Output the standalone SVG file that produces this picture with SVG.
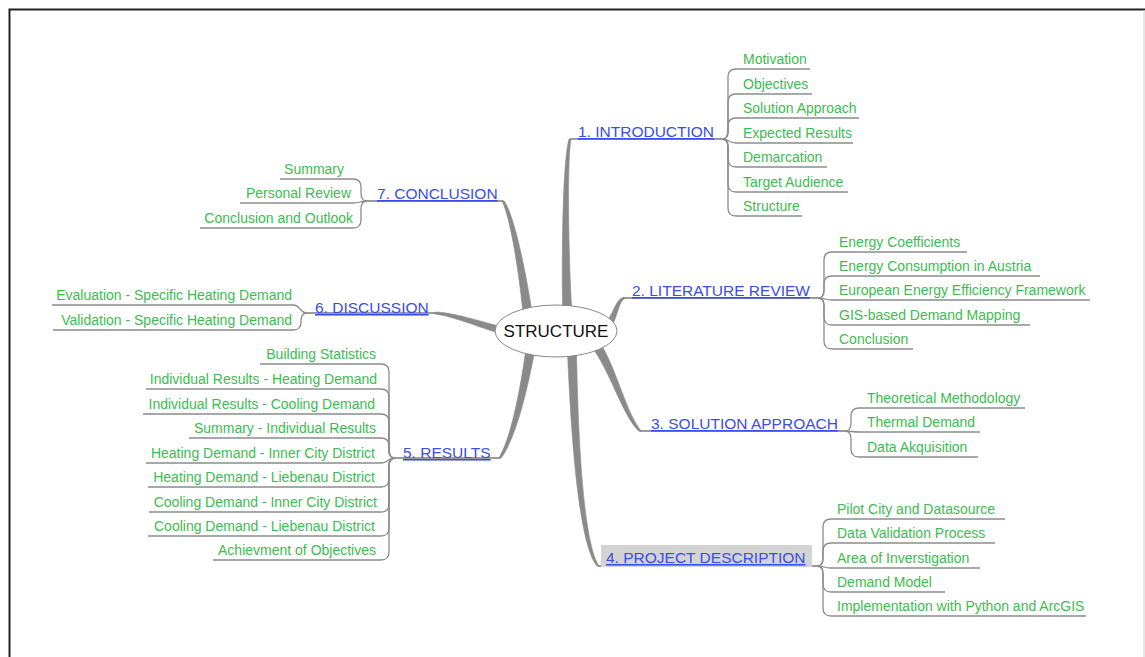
<svg xmlns="http://www.w3.org/2000/svg" width="1145" height="657" viewBox="0 0 1145 657">
<style>
.main{font-family:"Liberation Sans",Arial,sans-serif;font-size:15.5px;fill:#3a4de8;text-decoration:underline}
.sub{font-family:"Liberation Sans",Arial,sans-serif;font-size:14px;fill:#3cbc50}
.e{text-anchor:end}
.l{fill:none;stroke:#8c8c8c;stroke-width:1.3}
.ml{fill:none;stroke:#7a7a7a;stroke-width:1.6}
.t{fill:#8a8a8a;stroke:#8a8a8a;stroke-width:0.6}
</style>
<rect x="0" y="0" width="1145" height="657" fill="#fff"/>
<path d="M9.5,657 V9.5 H1145" fill="none" stroke="#222" stroke-width="2"/>
<line x1="1144" y1="10" x2="1144" y2="657" stroke="#ccc" stroke-width="1"/>

<g id="connectors">
<path class="t" d="M562.5,306 C561.7,250 562.8,160 569,139 L571,139 C567.2,160 568.3,250 571.5,306 Z"/>
<path class="t" d="M522.6,310 C518.8,270.7 509.9,215.5 502,201.2 L504,200.8 C514.1,214.5 525.2,269.3 531.4,308 Z"/>
<path class="t" d="M500.9,326.6 C470.7,318.5 450.5,312.3 435.3,312 L434.7,314 C449.5,315.7 469.3,323.5 499.1,333.4 Z"/>
<path class="t" d="M525.7,350.8 C518.8,399.1 509.9,439.4 499,457.7 L501,458.3 C514.1,440.6 525.2,400.9 534.3,353.2 Z"/>
<path class="t" d="M567.5,352.5 C571.7,450.4 579.8,545.3 597,566.1 L599,565.9 C584.2,544.7 578.3,449.6 576.5,351.5 Z"/>
<path class="t" d="M594,350 C612.1,376.5 623,416 639.1,431.5 L640.9,430.5 C627,414 617.9,373.5 602,346 Z"/>
<path class="t" d="M605,323.2 C612.8,316.7 615.5,299.1 623.1,297.5 L624.9,298.5 C618.5,300.9 617.2,319.3 611,326.8 Z"/>
<line class="ml" x1="570" y1="139" x2="722" y2="139"/>
<line class="ml" x1="623" y1="298" x2="818" y2="298"/>
<line class="ml" x1="640" y1="431" x2="845" y2="431"/>
<line class="ml" x1="598" y1="566" x2="817" y2="566"/>
<line class="ml" x1="395" y1="458" x2="500" y2="458"/>
<line class="ml" x1="307" y1="313" x2="435" y2="313"/>
<line class="ml" x1="367" y1="201" x2="503" y2="201"/>
<path class="l" d="M722,139 Q728,139 728,131 L728,77 Q728,69 736,69 L810,69"/>
<path class="l" d="M722,139 Q728,139 728,131 L728,102 Q728,94 736,94 L812,94"/>
<path class="l" d="M722,139 Q728,139 728,131 L728,126 Q728,118 736,118 L859,118"/>
<path class="l" d="M722,139 C730,139 728,143 736,143 L853,143"/>
<path class="l" d="M722,139 Q728,139 728,147 L728,159 Q728,167 736,167 L827,167"/>
<path class="l" d="M722,139 Q728,139 728,147 L728,184 Q728,192 736,192 L848,192"/>
<path class="l" d="M722,139 Q728,139 728,147 L728,208 Q728,216 736,216 L802,216"/>
<path class="l" d="M818,298 Q824,298 824,290 L824,260 Q824,252 832,252 L967,252"/>
<path class="l" d="M818,298 Q824,298 824,290 L824,284 Q824,276 832,276 L1040,276"/>
<path class="l" d="M818,298 C826,298 824,300 832,300 L1090,300"/>
<path class="l" d="M818,298 Q824,298 824,306 L824,317 Q824,325 832,325 L1030,325"/>
<path class="l" d="M818,298 Q824,298 824,306 L824,341 Q824,349 832,349 L913,349"/>
<path class="l" d="M845,431 Q851,431 851,423 L851,416 Q851,408 859,408 L1025,408"/>
<path class="l" d="M845,431 C853,431 851,432 859,432 L980,432"/>
<path class="l" d="M845,431 Q851,431 851,439 L851,449 Q851,457 859,457 L978,457"/>
<path class="l" d="M817,566 Q823,566 823,558 L823,527 Q823,519 831,519 L1005,519"/>
<path class="l" d="M817,566 Q823,566 823,558 L823,551 Q823,543 831,543 L995,543"/>
<path class="l" d="M817,566 C825,566 823,568 831,568 L980,568"/>
<path class="l" d="M817,566 Q823,566 823,574 L823,584 Q823,592 831,592 L945,592"/>
<path class="l" d="M817,566 Q823,566 823,574 L823,608 Q823,616 831,616 L1086,616"/>
<path class="l" d="M395,458 Q389,458 389,450 L389,372 Q389,364 381,364 L260,364"/>
<path class="l" d="M395,458 Q389,458 389,450 L389,397 Q389,389 381,389 L146,389"/>
<path class="l" d="M395,458 Q389,458 389,450 L389,422 Q389,414 381,414 L143,414"/>
<path class="l" d="M395,458 Q389,458 389,450 L389,446 Q389,438 381,438 L189,438"/>
<path class="l" d="M395,458 C387,458 389,463 381,463 L146,463"/>
<path class="l" d="M395,458 Q389,458 389,466 L389,479 Q389,487 381,487 L148,487"/>
<path class="l" d="M395,458 Q389,458 389,466 L389,504 Q389,512 381,512 L149,512"/>
<path class="l" d="M395,458 Q389,458 389,466 L389,528 Q389,536 381,536 L148,536"/>
<path class="l" d="M395,458 Q389,458 389,466 L389,552 Q389,560 381,560 L213,560"/>
<path class="l" d="M307,313 C299,313 301,305 293,305 L52,305"/>
<path class="l" d="M307,313 Q301,313 301,321 L301,322 Q301,330 293,330 L53,330"/>
<path class="l" d="M367,201 Q361,201 361,193 L361,187 Q361,179 353,179 L280,179"/>
<path class="l" d="M367,201 C359,201 361,203 353,203 L240,203"/>
<path class="l" d="M367,201 Q361,201 361,209 L361,220 Q361,228 353,228 L200,228"/>
</g>

<g id="center">
<ellipse cx="556" cy="331" rx="61" ry="26" fill="#fff" stroke="#888" stroke-width="1"/>
<text x="556" y="337" text-anchor="middle" font-family="'Liberation Sans',Arial,sans-serif" font-size="17" fill="#111">STRUCTURE</text>
</g>

<g id="introduction">
<text class="main" x="578" y="137">1. INTRODUCTION</text>
<text class="sub" x="743" y="64">Motivation</text>
<text class="sub" x="743" y="89">Objectives</text>
<text class="sub" x="743" y="113">Solution Approach</text>
<text class="sub" x="743" y="138">Expected Results</text>
<text class="sub" x="743" y="162">Demarcation</text>
<text class="sub" x="743" y="187">Target Audience</text>
<text class="sub" x="743" y="211">Structure</text>
</g>

<g id="literature">
<text class="main" x="632" y="296">2. LITERATURE REVIEW</text>
<text class="sub" x="839" y="247">Energy Coefficients</text>
<text class="sub" x="839" y="271">Energy Consumption in Austria</text>
<text class="sub" x="839" y="295">European Energy Efficiency Framework</text>
<text class="sub" x="839" y="320">GIS-based Demand Mapping</text>
<text class="sub" x="839" y="344">Conclusion</text>
</g>

<g id="solution">
<text class="main" x="651" y="429">3. SOLUTION APPROACH</text>
<text class="sub" x="867" y="403">Theoretical Methodology</text>
<text class="sub" x="867" y="427">Thermal Demand</text>
<text class="sub" x="867" y="452">Data Akquisition</text>
</g>

<g id="project">
<rect x="601" y="545" width="211" height="22" fill="#d3d3d3"/>
<text class="main" x="606" y="563">4. PROJECT DESCRIPTION</text>
<text class="sub" x="837" y="514">Pilot City and Datasource</text>
<text class="sub" x="837" y="538">Data Validation Process</text>
<text class="sub" x="837" y="563">Area of Inverstigation</text>
<text class="sub" x="837" y="587">Demand Model</text>
<text class="sub" x="837" y="611">Implementation with Python and ArcGIS</text>
</g>

<g id="results">
<text class="main" x="403" y="458">5. RESULTS</text>
<text class="sub e" x="376" y="359">Building Statistics</text>
<text class="sub e" x="377" y="384">Individual Results - Heating Demand</text>
<text class="sub e" x="375" y="409">Individual Results - Cooling Demand</text>
<text class="sub e" x="376" y="433">Summary - Individual Results</text>
<text class="sub e" x="375" y="458">Heating Demand - Inner City District</text>
<text class="sub e" x="375" y="482">Heating Demand - Liebenau District</text>
<text class="sub e" x="377" y="507">Cooling Demand - Inner City District</text>
<text class="sub e" x="375" y="531">Cooling Demand - Liebenau District</text>
<text class="sub e" x="376" y="555">Achievment of Objectives</text>
</g>

<g id="discussion">
<text class="main" x="315" y="313">6. DISCUSSION</text>
<text class="sub e" x="292" y="300">Evaluation - Specific Heating Demand</text>
<text class="sub e" x="292" y="325">Validation - Specific Heating Demand</text>
</g>

<g id="conclusion">
<text class="main" x="377" y="199">7. CONCLUSION</text>
<text class="sub e" x="344" y="174">Summary</text>
<text class="sub e" x="351" y="198">Personal Review</text>
<text class="sub e" x="353" y="223">Conclusion and Outlook</text>
</g>
</svg>
